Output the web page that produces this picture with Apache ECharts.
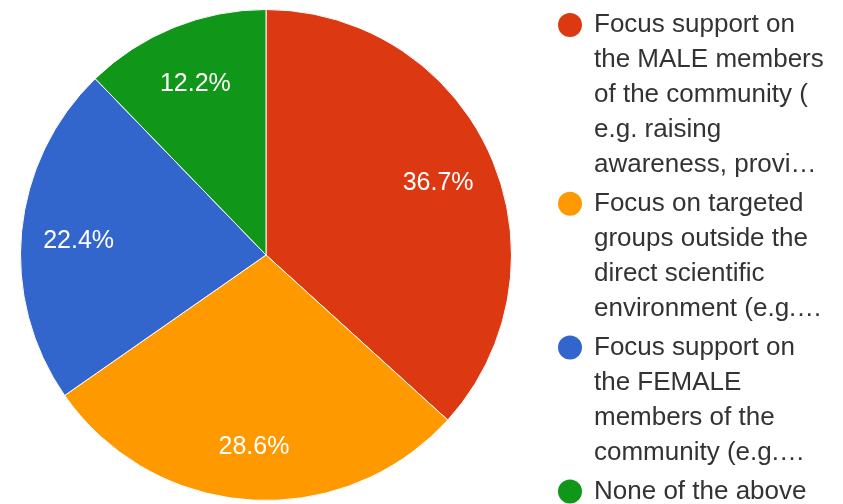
<!DOCTYPE html>
<html>
<head>
<meta charset="utf-8">
<script src="https://cdn.jsdelivr.net/npm/echarts@6/dist/echarts.min.js"></script>
<style>
  html, body { margin: 0; padding: 0; background: #fff; }
  #chart { width: 843px; height: 504px; }
</style>
</head>
<body>
<div id="chart"></div>
<script>
// categories, in the order they go round the pie (clockwise from 12 o'clock)
const categories = [
  'Focus support on the MALE members of the community ( e.g. raising awareness, provi…',
  'Focus on targeted groups outside the direct scientific environment (e.g.…',
  'Focus support on the FEMALE members of the community (e.g.…',
  'None of the above'
]
// responses per answer (49 in total -> 36.7 / 28.6 / 22.4 / 12.2 %)
const counts = [18, 14, 11, 6]
// legend text as wrapped in the picture
const legendLines = [
  ['Focus support on', 'the MALE members', 'of the community (', 'e.g. raising', 'awareness, provi…'],
  ['Focus on targeted', 'groups outside the', 'direct scientific', 'environment (e.g.…'],
  ['Focus support on', 'the FEMALE', 'members of the', 'community (e.g.…'],
  ['None of the above']
]
const colorList = ['#dc3912', '#ff9900', '#3366cc', '#109618']

const FONT = 'Liberation Sans, Arial, sans-serif'
const LINE_H = 35
const total = counts.reduce((a, b) => a + b, 0)

const pieData = categories.map((name, i) => ({ name, value: counts[i] }))

// rich styles: a coloured dot on the first line of each legend item
const rich = {
  t: { fontFamily: FONT, fontSize: 26, color: '#333', lineHeight: LINE_H, padding: [0, 0, 0, 12] },
  s: { width: 24, height: 24, lineHeight: LINE_H }
}
colorList.forEach((c, i) => {
  rich['d' + i] = { width: 24, height: 24, borderRadius: 12, backgroundColor: c, lineHeight: LINE_H }
})

const legendText = (name) => {
  const i = categories.indexOf(name)
  const lines = legendLines[i]
  let str = '{d' + i + '|}{t|' + lines[0] + '}'
  lines.slice(1).forEach((l) => {
    str += '\n{s|}{t|' + l + '}'
  })
  return str
}

const option = {
  animation: false,
  color: colorList,
  legend: {
    orient: 'vertical',
    left: 552,
    top: 12,
    padding: 0,
    itemGap: 12.8,
    itemWidth: 0,
    itemHeight: 0,
    selectedMode: false,
    data: categories,
    formatter: legendText,
    textStyle: { rich }
  },
  series: [
    {
      // the slices
      type: 'pie',
      center: [266, 255],
      radius: 245.5,
      startAngle: 90,
      clockwise: true,
      label: { show: false },
      labelLine: { show: false },
      itemStyle: { borderColor: '#fff', borderWidth: 1 },
      emphasis: { disabled: true },
      data: pieData
    },
    {
      // percent labels only, placed further out than the default inside spot
      type: 'pie',
      silent: true,
      center: [266, 255],
      radius: [125, 245.5],
      startAngle: 90,
      clockwise: true,
      itemStyle: { color: 'rgba(0,0,0,0)' },
      label: {
        show: true,
        position: 'inside',
        formatter: (p) => ((p.value / total) * 100).toFixed(1) + '%',
        color: '#fff',
        fontFamily: FONT,
        fontSize: 25,
        offset: [0, 4]
      },
      labelLine: { show: false },
      emphasis: { disabled: true },
      data: pieData
    }
  ]
}

const myChart = echarts.init(document.getElementById('chart'))
myChart.setOption(option)
</script>
</body>
</html>
